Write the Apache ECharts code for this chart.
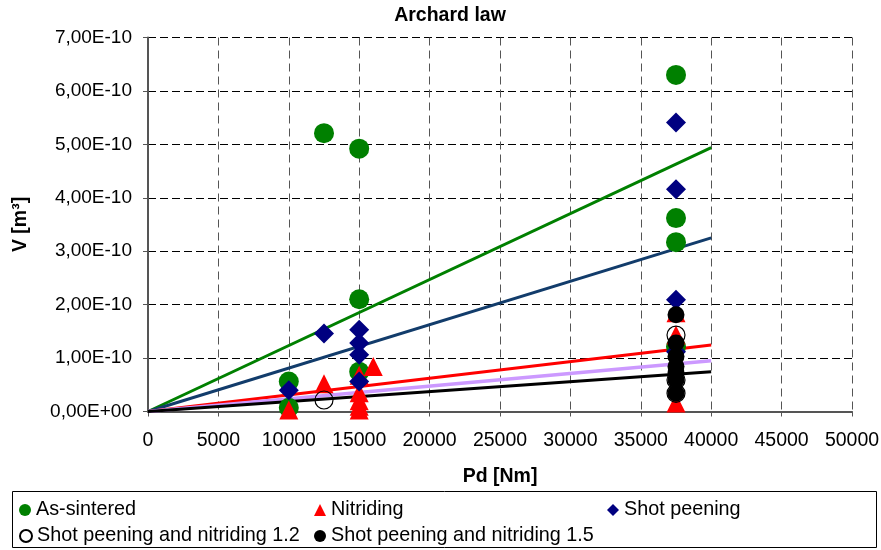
<!DOCTYPE html>
<html>
<head>
<meta charset="utf-8">
<script src="https://cdn.jsdelivr.net/npm/echarts@6/dist/echarts.min.js"></script>
<style>html,body{margin:0;padding:0;background:#fff}#c{width:881px;height:550px}</style>
</head>
<body>
<div id="c"></div>
<script>
// ---- data (Pd [Nm], V [m3]) ----
const asSinteredX = [12500, 15000, 15000, 15000, 10000, 10000, 37500, 37500, 37500, 37500];
const asSinteredY = [5.21e-10, 4.92e-10, 2.10e-10, 0.745e-10, 0.56e-10, 0.07e-10, 6.30e-10, 3.62e-10, 3.17e-10, 1.21e-10];

const nitridingX = [10000, 12500, 16000, 15000, 15000, 15000, 15000, 15000, 37500, 37500, 37500];
const nitridingY = [0.03e-10, 0.52e-10, 0.84e-10, 0.68e-10, 0.35e-10, 0.20e-10, 0.10e-10, 0.03e-10, 1.85e-10, 1.43e-10, 0.16e-10];

const shotPeeningX = [10000, 12500, 15000, 15000, 15000, 15000, 37500, 37500, 37500, 37500];
const shotPeeningY = [0.40e-10, 1.46e-10, 1.53e-10, 1.28e-10, 1.06e-10, 0.56e-10, 5.41e-10, 4.16e-10, 2.09e-10, 1.12e-10];

const spn12X = [12500, 37500, 37500, 37500];
const spn12Y = [0.215e-10, 1.43e-10, 0.59e-10, 0.34e-10];

const spn15X = [37500, 37500, 37500, 37500, 37500, 37500, 37500];
const spn15Y = [1.81e-10, 1.28e-10, 1.03e-10, 0.84e-10, 0.72e-10, 0.59e-10, 0.34e-10];

// trend lines (through origin), end values at Pd = 40000
const trendX = [0, 40000];
const trendAsSintered = [0, 4.94e-10];
const trendShotPeening = [0, 3.25e-10];
const trendNitriding = [0, 1.245e-10];
const trendSpn12 = [0, 0.95e-10];
const trendSpn15 = [0, 0.745e-10];

const xTicks = {min: 0, max: 50000, interval: 5000};
const yTicks = {min: 0, max: 7e-10, interval: 1e-10};

const names = ['As-sintered', 'Nitriding', 'Shot peening', 'Shot peening and nitriding 1.2', 'Shot peening and nitriding 1.5'];

// ---- chart ----
const FONT = "'Liberation Sans', Arial, sans-serif";
const zip = (xs, ys) => xs.map((x, i) => [x, ys[i]]);

const chart = echarts.init(document.getElementById('c'), null, {renderer: 'canvas'});

function trend(ys, color, width) {
  return {
    type: 'line', data: zip(trendX, ys), showSymbol: false, symbol: 'none',
    lineStyle: {color: color, width: width}, silent: true, z: 2, animation: false
  };
}
function legendAt(name, left, top) {
  return {
    data: [name], left: left, top: top, padding: 0, itemWidth: 12, itemHeight: 12, itemGap: 5,
    textStyle: {fontFamily: FONT, fontSize: 19.8, color: '#000'}, selectedMode: false
  };
}

chart.setOption({
  animation: false,
  backgroundColor: '#fff',
  title: {
    text: 'Archard law', left: 450, textAlign: 'center', top: 6, padding: 0,
    textStyle: {fontFamily: FONT, fontSize: 19.5, fontWeight: 'bold', color: '#000'}
  },
  grid: {left: 148, right: 29, top: 37.5, bottom: 138.5, containLabel: false, outerBoundsMode: 'none'},
  legend: [
    legendAt(names[0], 19, 500),
    legendAt(names[1], 314, 500),
    legendAt(names[2], 607, 500),
    legendAt(names[3], 19, 526),
    legendAt(names[4], 314, 526)
  ],
  graphic: [{
    type: 'rect', shape: {x: 12.5, y: 491.5, width: 864, height: 56},
    style: {fill: 'none', stroke: '#000', lineWidth: 1}, silent: true
  }],
  xAxis: {
    type: 'value', min: xTicks.min, max: xTicks.max, interval: xTicks.interval,
    name: 'Pd [Nm]', nameLocation: 'middle', nameGap: 55, nameMoveOverlap: false,
    nameTextStyle: {fontFamily: FONT, fontSize: 19.5, fontWeight: 'bold', color: '#000'},
    axisLine: {show: true, onZero: false, lineStyle: {color: '#555', width: 2}},
    axisTick: {show: true, length: 5, inside: false, lineStyle: {color: '#555', width: 1}},
    axisLabel: {margin: 19, fontFamily: FONT, fontSize: 19.5, color: '#000', formatter: v => String(v)},
    splitLine: {show: true, lineStyle: {color: '#555', width: 1, type: [8, 5]}}
  },
  yAxis: {
    type: 'value', min: yTicks.min, max: yTicks.max, interval: yTicks.interval,
    name: 'V [m³]', nameLocation: 'middle', nameGap: 117, nameRotate: 90, nameMoveOverlap: false,
    nameTextStyle: {fontFamily: FONT, fontSize: 19.5, fontWeight: 'bold', color: '#000'},
    axisLine: {show: true, onZero: false, lineStyle: {color: '#555', width: 2}},
    axisTick: {show: true, length: 5, inside: false, lineStyle: {color: '#555', width: 1}},
    axisLabel: {
      margin: 16, fontFamily: FONT, fontSize: 19, color: '#000',
      formatter: function (v) {
        const m = Math.round(v * 1e12) / 100;
        if (m === 0) return '0,00E+00';
        return m.toFixed(2).replace('.', ',') + 'E-10';
      }
    },
    splitLine: {show: true, lineStyle: {color: '#000', width: 1, type: [8, 4]}}
  },
  series: [
    trend(trendAsSintered, '#008000', 3),
    trend(trendShotPeening, '#123c6b', 3),
    trend(trendNitriding, '#ff0000', 3),
    trend(trendSpn12, '#cc99ff', 3.5),
    trend(trendSpn15, '#000000', 3),
    {
      name: names[0], type: 'scatter', data: zip(asSinteredX, asSinteredY),
      symbol: 'circle', symbolSize: 20, itemStyle: {color: '#008000', opacity: 1}, z: 3
    },
    {
      name: names[1], type: 'scatter', data: zip(nitridingX, nitridingY),
      symbol: 'triangle', symbolSize: [19, 19], itemStyle: {color: '#ff0000', opacity: 1}, z: 3
    },
    {
      name: names[2], type: 'scatter', data: zip(shotPeeningX, shotPeeningY),
      symbol: 'diamond', symbolSize: 20, itemStyle: {color: '#000080', opacity: 1}, z: 3
    },
    {
      name: names[3], type: 'scatter', data: zip(spn12X, spn12Y),
      symbol: 'circle', symbolSize: 18,
      itemStyle: {color: 'rgba(255,255,255,0)', borderColor: '#000', borderWidth: 1.2, opacity: 1}, z: 3
    },
    {
      name: names[4], type: 'scatter', data: zip(spn15X, spn15Y),
      symbol: 'circle', symbolSize: 17, itemStyle: {color: '#000000', opacity: 1}, z: 3
    }
  ]
});
</script>
</body>
</html>
